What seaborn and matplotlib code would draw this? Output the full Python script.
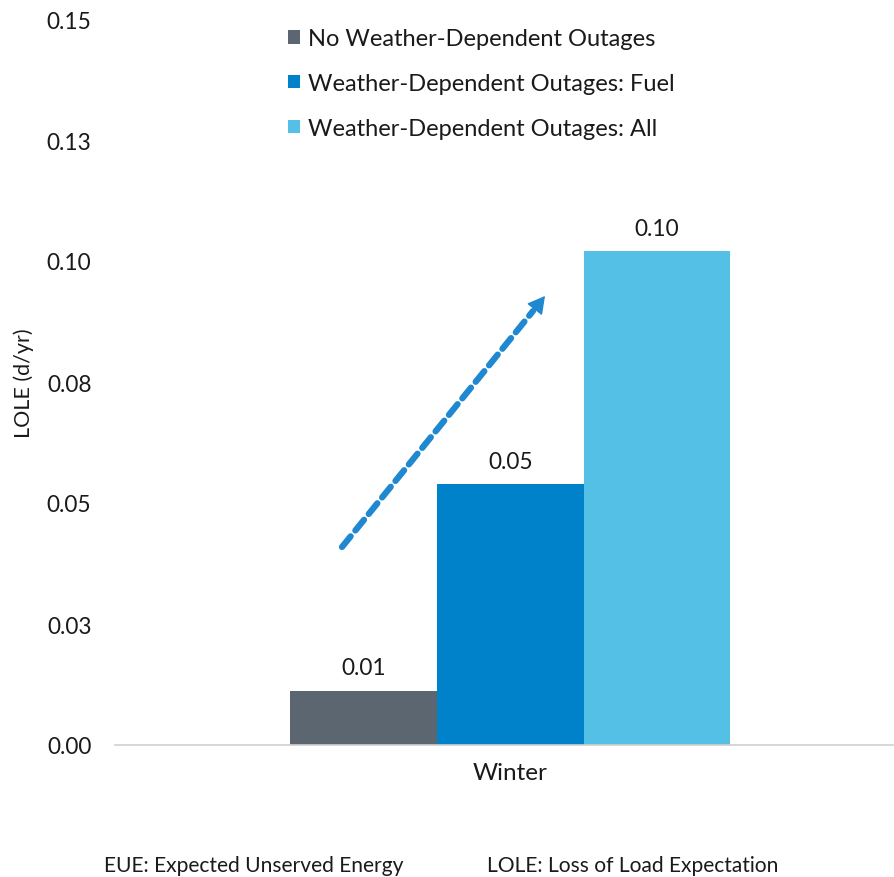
import matplotlib
matplotlib.use("Agg")
import matplotlib.pyplot as plt
import seaborn as sns
import pandas as pd
from matplotlib.ticker import FixedLocator

season = ["Winter"]
scenarios = ["No Weather-Dependent Outages",
             "Weather-Dependent Outages: Fuel",
             "Weather-Dependent Outages: All"]
lole = [0.0112, 0.0539, 0.102]
value_labels = ["0.01", "0.05", "0.10"]
yticks = [0.0, 0.025, 0.05, 0.075, 0.1, 0.125, 0.15]
ytick_labels = ["0.00", "0.03", "0.05", "0.08", "0.10", "0.13", "0.15"]
colors = ["#5C6670", "#0082CA", "#55C0E6"]

sns.set_theme(style="white")
plt.rcParams['font.family'] = ['Lato', 'DejaVu Sans']

df = pd.DataFrame({"season": season * 3, "scenario": scenarios, "lole": lole})

fig = plt.figure(figsize=(8.95, 8.78), dpi=100)
ax = fig.add_axes([115 / 895, 1 - 746 / 878, 778 / 895, 726 / 878])

sns.barplot(data=df, x="season", y="lole", hue="scenario", hue_order=scenarios,
            palette=colors, width=0.566, gap=0, saturation=1, ax=ax,
            edgecolor="none", linewidth=0)

ax.set_xlim(-0.508, 0.492)
ax.set_ylim(0, 0.15)
ax.yaxis.set_major_locator(FixedLocator(yticks))
ax.set_yticklabels(ytick_labels)
ax.tick_params(axis="y", length=0, labelsize=16.3, colors="#1a1a1a", pad=17)
ax.tick_params(axis="x", length=0, labelsize=17.5, colors="#1a1a1a", pad=12)
ax.set_xlabel("")
ax.set_ylabel("LOLE (d/yr)", fontsize=15.5, color="#1a1a1a")
ax.yaxis.set_label_coords(-0.104, 0.5)
for s in ["top", "right", "left"]:
    ax.spines[s].set_visible(False)
ax.spines["bottom"].set_color("#d0d0d0")
ax.spines["bottom"].set_linewidth(1.2)

for cont, lab in zip(ax.containers, value_labels):
    ax.bar_label(cont, labels=[lab], padding=9, fontsize=16.3, color="#1a1a1a")

leg = ax.legend(loc="upper left", bbox_to_anchor=(0.210, 1.0), frameon=False,
                fontsize=17, handlelength=0.5, handleheight=0.5, handletextpad=0.34,
                labelspacing=1.0, borderaxespad=0)
for t in leg.get_texts():
    t.set_color("#1a1a1a")

# trend arrow (annotation)
x0, y0 = (342 - 115) / 778, (746 - 548) / 726
x1, y1 = (533 - 115) / 778, (746 - 312) / 726
x2, y2 = (545 - 115) / 778, (746 - 297) / 726
ax.annotate("", xy=(x1, y1), xytext=(x0, y0), xycoords="axes fraction",
            arrowprops=dict(arrowstyle="-", color="#1F88D0", lw=4.5, ls=(0, (2.2, 1.2)),
                            shrinkA=0, shrinkB=0))
ax.annotate("", xy=(x2, y2), xytext=(x1 - 0.004, y1 - 0.006), xycoords="axes fraction",
            arrowprops=dict(arrowstyle="-|>,head_length=0.9,head_width=0.5",
                            color="#1F88D0", lw=1, shrinkA=0, shrinkB=0))

fig.text(104 / 895, 1 - 866 / 878, "EUE: Expected Unserved Energy", fontsize=15.1,
         color="#1a1a1a", va="center", ha="left")
fig.text(487 / 895, 1 - 866 / 878, "LOLE: Loss of Load Expectation", fontsize=15.1,
         color="#1a1a1a", va="center", ha="left")

fig.savefig("out.png", dpi=100)
